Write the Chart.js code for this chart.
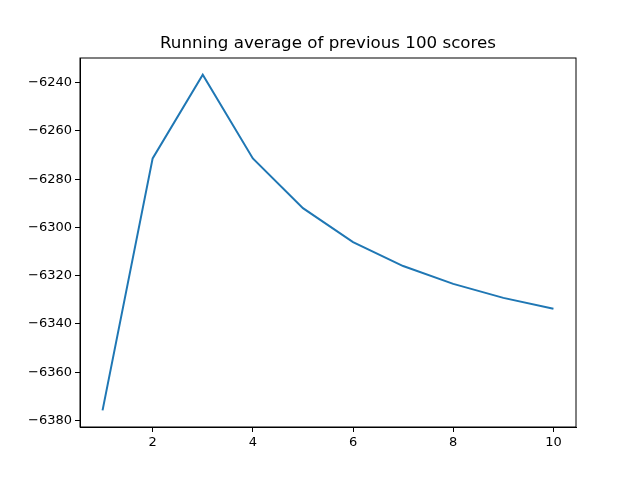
<!DOCTYPE html>
<html><head><meta charset="utf-8">
<script src="https://cdn.jsdelivr.net/npm/chart.js@4"></script>
<style>html,body{margin:0;background:#fff}</style>
</head><body>
<canvas id="c" width="640" height="480" style="width:640px;height:480px"></canvas>
<script>
// values
var episodes = [1, 2, 3, 4, 5, 6, 7, 8, 9, 10];
var runningAvg = [-6375.8, -6271.4, -6236.7, -6271.4, -6292.0, -6306.1, -6316.0, -6323.4, -6329.2, -6333.7];
var xTicks = [2, 4, 6, 8, 10];
var yTicks = [-6380, -6360, -6340, -6320, -6300, -6280, -6260, -6240];
var title = "Running average of previous 100 scores";

var font = { family: "DejaVu Sans", size: 13 };

var frame = {
  id: "frame",
  afterDraw: function (c) {
    var a = c.chartArea, g = c.ctx;
    g.save();
    g.strokeStyle = "#000";
    g.lineWidth = 1;
    g.strokeRect(a.left, a.top, a.right - a.left, a.bottom - a.top);
    g.fillStyle = "#000";
    g.font = "16.7px DejaVu Sans";
    g.textAlign = "center";
    g.textBaseline = "bottom";
    g.fillText(title, (a.left + a.right) / 2, a.top - 6);
    g.restore();
  }
};

new Chart(document.getElementById("c"), {
  type: "line",
  data: {
    datasets: [{
      data: episodes.map(function (e, i) { return { x: e, y: runningAvg[i] }; }),
      borderColor: "#1f77b4",
      borderWidth: 2,
      pointRadius: 0,
      tension: 0,
      fill: false
    }]
  },
  options: {
    responsive: false,
    animation: false,
    layout: { padding: { top: 58, right: 64 } },
    plugins: { legend: { display: false }, tooltip: { enabled: false } },
    scales: {
      x: {
        type: "linear", min: 0.55, max: 10.45,
        afterBuildTicks: function (s) { s.ticks = xTicks.map(function (v) { return { value: v }; }); },
        afterFit: function (s) { s.height = 53; },
        grid: { drawOnChartArea: false, tickLength: 5, color: "#000" },
        border: { color: "#000" },
        ticks: { color: "#000", font: font, padding: 3, maxRotation: 0 }
      },
      y: {
        min: -6382.7, max: -6229.8,
        afterBuildTicks: function (s) { s.ticks = yTicks.map(function (v) { return { value: v }; }); },
        afterFit: function (s) { s.width = 80; },
        grid: { drawOnChartArea: false, tickLength: 5, color: "#000" },
        border: { color: "#000" },
        ticks: {
          color: "#000", font: font, padding: 3,
          callback: function (v) { return String(v).replace("-", "\u2212"); }
        }
      }
    }
  },
  plugins: [frame]
});
</script>
</body></html>
